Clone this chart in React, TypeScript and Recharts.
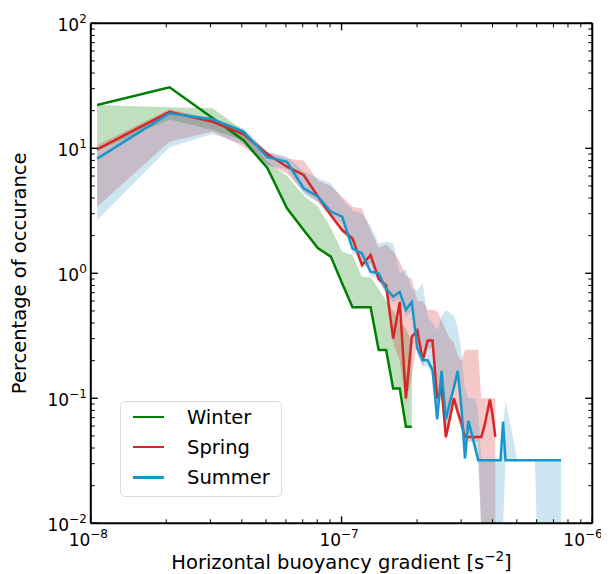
import React from 'react';
import { ComposedChart, Line, Area, XAxis, YAxis } from 'recharts';

// Bin centres of the gradient histogram, in units of 1e-8 s^-2
const binCentre = [
  1.06, 2.06, 3.06, 4.06, 5.06, 6.06, 7.06, 8.06, 9.06, 10.06,
  11.06, 12.06, 13.06, 14.06, 15.06, 16.06, 17.06, 18.06, 19.06, 20.06,
  21.06, 22.06, 23.06, 24.06, 25.06, 26.06, 27.06, 28.06, 29.06, 30.06,
  31.06, 32.06, 33.06, 34.06, 35.06, 36.06, 37.06, 38.06, 39.06, 40.06,
  41.06, 42.06, 43.06, 44.06, 45.06, 46.06, 47.06, 48.06, 49.06, 50.06,
  51.06, 52.06, 53.06, 54.06, 55.06, 56.06, 57.06, 58.06, 59.06, 60.06,
  61.06, 62.06, 63.06, 64.06, 65.06, 66.06, 67.06, 68.06, 69.06, 70.06,
  71.06, 72.06, 73.06, 74.06, 75.06,
].map((v) => v * 1e-8);

// Winter: percentage of occurrence and its spread
const winter = [22.2, 30.8, 17.5, 11.6, 6.95, 3.31, 2.22, 1.585, 1.36, 0.83, 0.535, 0.535, 0.535, 0.243, 0.243, 0.12, 0.12, 0.0593, 0.0593];
const winterLow = [9.5, 17, 14, 11.6, 6.95, 3.31, 2.22, 1.585, 1.36, 0.83, 0.535, 0.535, 0.535, 0.243, 0.243, 0.12, 0.12, 0.0593, 0.0593];
const winterHigh = [22.2, 21.3, 20.9, 13.9, 7.8, 6.0, 4.2, 3.4, 2.3, 1.49, 1.4, 0.94, 0.93, 0.75, 0.6, 0.5, 0.42, 0.36, 0.28];

// Spring
const spring = [
  9.82, 19.6, 16.3, 13.0, 9.0, 7.12, 6.12, 4.1, 2.93, 2.22,
  1.9, 1.165, 1.4, 0.9, 0.8, 0.3, 0.59, 0.1, 0.31, 0.35,
  0.2, 0.29, 0.29, 0.1, 0.12, 0.049, 0.07, 0.1, 0.078, 0.063,
  0.049, 0.049, 0.049, 0.049, 0.049, 0.049, 0.059, 0.076, 0.098, 0.072,
  0.049,
];
const springLow = [
  3.41, 11.3, 13.6, 10.3, 7.5, 6.3, 4.5, 3.7, 2.8, 2.1,
  1.8, 1.1, 1.2, 0.85, 0.7, 0.28, 0.2, 0.09, 0.15, 0.3,
  0.18, 0.25, 0.25, 0.09, 0.1, 0.045, 0.06, 0.09, 0.07, 0.055,
  0.045, 0.045, 0.045, 0.045, 0.045, 0.009, 0.009, 0.009, 0.009, 0.009,
  0.009,
];
const springHigh = [
  10.6, 20.5, 17, 14, 9.3, 8.3, 8.0, 5.5, 5.0, 4.1,
  3.4, 3.3, 2.2, 1.6, 1.7, 1.5, 1.25, 0.95, 0.9, 0.6,
  0.6, 0.51, 0.51, 0.5, 0.42, 0.35, 0.3, 0.28, 0.22, 0.2,
  0.245, 0.245, 0.245, 0.245, 0.245, 0.1, 0.1, 0.1, 0.1, 0.1,
  0.1,
];

// Summer
const summer = [
  8.26, 19.05, 17.06, 13.6, 8.5, 7.8, 4.79, 4.1, 3.12, 2.84,
  1.585, 1.445, 1.03, 1.0, 0.75, 0.65, 0.71, 0.51, 0.59, 0.25,
  0.202, 0.202, 0.168, 0.068, 0.166, 0.068, 0.093, 0.122, 0.166, 0.085,
  0.033, 0.066, 0.052, 0.041, 0.032, 0.032, 0.032, 0.032, 0.032, 0.032,
  0.032, 0.032, 0.032, 0.065, 0.032, 0.032, 0.032, 0.032, 0.032, 0.032,
  0.032, 0.032, 0.032, 0.032, 0.032, 0.032, 0.032, 0.032, 0.032, 0.032,
  0.032, 0.032, 0.032, 0.032, 0.032, 0.032, 0.032, 0.032, 0.032, 0.032,
  0.032, 0.032, 0.032, 0.032, 0.032,
];
const summerLow = [
  2.67, 10.2, 13.0, 10.8, 7.3, 6.8, 4.3, 3.7, 2.9, 2.5,
  1.45, 1.3, 0.95, 0.9, 0.68, 0.58, 0.62, 0.45, 0.5, 0.22,
  0.18, 0.18, 0.15, 0.06, 0.14, 0.06, 0.08, 0.11, 0.15, 0.075,
  0.03, 0.055, 0.045, 0.036, 0.03, 0.009, 0.009, 0.009, 0.009, 0.009,
  0.009, 0.009, 0.009, 0.009, 0.032, 0.032, 0.032, 0.032, 0.032, 0.032,
  0.032, 0.032, 0.032, 0.032, 0.032, 0.032, 0.032, 0.032, 0.032, 0.009,
  0.009, 0.009, 0.009, 0.009, 0.009, 0.009, 0.009, 0.009, 0.009, 0.009,
  0.009, 0.009, 0.009, 0.009, 0.009,
];
const summerHigh = [
  9.5, 19.5, 17.5, 14.5, 9.4, 8.6, 6.5, 5.75, 5.25, 3.9,
  3.2, 3.0, 2.4, 1.74, 1.79, 1.74, 1.0, 1.08, 0.75, 0.73,
  0.83, 0.45, 0.4, 0.35, 0.45, 0.51, 0.48, 0.46, 0.37, 0.23,
  0.12, 0.1, 0.1, 0.1, 0.08, 0.032, 0.032, 0.032, 0.032, 0.032,
  0.032, 0.032, 0.032, 0.06, 0.095, 0.077, 0.062, 0.051, 0.041, 0.032,
  0.032, 0.032, 0.032, 0.032, 0.032, 0.032, 0.032, 0.032, 0.032, 0.032,
  0.032, 0.032, 0.032, 0.032, 0.032, 0.032, 0.032, 0.032, 0.032, 0.032,
  0.032, 0.032, 0.032, 0.032, 0.032,
];

// Axis ticks (major decades carry labels, minor ones are short marks)
const xMajor = [1e-8, 1e-7, 1e-6];
const xMinor = [2e-8, 3e-8, 4e-8, 5e-8, 6e-8, 7e-8, 8e-8, 9e-8, 2e-7, 3e-7, 4e-7, 5e-7, 6e-7, 7e-7, 8e-7, 9e-7];
const yMajor = [0.01, 0.1, 1, 10, 100];
const yMinor = [
  0.02, 0.03, 0.04, 0.05, 0.06, 0.07, 0.08, 0.09,
  0.2, 0.3, 0.4, 0.5, 0.6, 0.7, 0.8, 0.9,
  2, 3, 4, 5, 6, 7, 8, 9,
  20, 30, 40, 50, 60, 70, 80, 90,
];
const xTicks = [...xMajor, ...xMinor].sort((a, b) => a - b);
const yTicks = [...yMajor, ...yMinor].sort((a, b) => a - b);

const seasons = [
  { name: 'Winter', color: '#008000' },
  { name: 'Spring', color: '#d62728' },
  { name: 'Summer', color: '#1796c9' },
];
const summerFill = '#1f8fc0';

const rows = binCentre.map((x, i) => ({
  x,
  winter: winter[i],
  winterBand: winterLow[i] != null ? [winterLow[i], winterHigh[i]] : undefined,
  spring: spring[i],
  springBand: springLow[i] != null ? [springLow[i], springHigh[i]] : undefined,
  summer: summer[i],
  summerBand: summerLow[i] != null ? [summerLow[i], summerHigh[i]] : undefined,
}));

const FONT = "'DejaVu Sans', 'Liberation Sans', sans-serif";
const W = 601;
const H = 566;
const AX = 1; // thickness reserved by each axis
const MARGIN = { top: 15.3 - AX, right: 16.7 - AX, bottom: 50.7 - AX, left: 82.8 - AX };
const MAJOR = 7;
const MINOR = 4;
const X_LABEL_HALF = 21; // half width of a "10^-n" label, with a little slack

const exponentOf = (v: number) => Math.round(Math.log10(v));
const expText = (e: number) => (e < 0 ? '\u2212' : '') + Math.abs(e);

const PowerLabel = ({ x, y, value, anchor }: { x: number; y: number; value: number; anchor: 'middle' | 'end' }) => (
  <text x={x} y={y} textAnchor={anchor} fontSize={17} fontFamily={FONT} fill="#000">
    10
    <tspan fontSize={12} dy={-8}>{expText(exponentOf(value))}</tspan>
  </text>
);

const isXMajor = (v: number) => xMajor.includes(v);
const isYMajor = (v: number) => yMajor.includes(v);

const BottomTick = (p: any) => {
  const major = isXMajor(p.payload.value);
  // keep the last decade label inside the drawing
  const lx = Math.min(p.x - 2.5, W - 5 - X_LABEL_HALF);
  return (
    <g>
      <line x1={p.x} y1={p.y} x2={p.x} y2={p.y - (major ? MAJOR : MINOR)} stroke="#000" strokeWidth={major ? 1.4 : 1} />
      {major && <PowerLabel x={lx} y={p.y + 23} value={p.payload.value} anchor="middle" />}
    </g>
  );
};
const TopTick = (p: any) => {
  const major = isXMajor(p.payload.value);
  return <line x1={p.x} y1={p.y} x2={p.x} y2={p.y + (major ? MAJOR : MINOR)} stroke="#000" strokeWidth={major ? 1.4 : 1} />;
};
const LeftTick = (p: any) => {
  const major = isYMajor(p.payload.value);
  return (
    <g>
      <line x1={p.x} y1={p.y} x2={p.x + (major ? MAJOR : MINOR)} y2={p.y} stroke="#000" strokeWidth={major ? 1.4 : 1} />
      {major && <PowerLabel x={p.x - 4} y={p.y + 8} value={p.payload.value} anchor="end" />}
    </g>
  );
};
const RightTick = (p: any) => {
  const major = isYMajor(p.payload.value);
  return <line x1={p.x} y1={p.y} x2={p.x - (major ? MAJOR : MINOR)} y2={p.y} stroke="#000" strokeWidth={major ? 1.4 : 1} />;
};

const XTitle = () => (
  <text x={333.5} y={561} textAnchor="middle" fontSize={19.5} fontFamily={FONT} fill="#000">
    Horizontal buoyancy gradient [s
    <tspan fontSize={13.5} dy={-8}>{'\u2212'}2</tspan>
    <tspan dy={8}>]</tspan>
  </text>
);
const YTitle = () => (
  <text transform="translate(18, 265.3) rotate(-90)" textAnchor="middle" fontSize={19.5} fontFamily={FONT} fill="#000">
    Percentage of occurance
  </text>
);

const frame = { stroke: '#000', strokeWidth: 2 };

export default function App() {
  return (
    <div style={{ position: 'relative', width: W, height: H }}>
      <ComposedChart width={W} height={H} data={rows} margin={MARGIN}>
        <XAxis
          xAxisId="main" dataKey="x" type="number" scale="log" domain={[1e-8, 1e-6]} allowDataOverflow
          ticks={xTicks} interval={0} tick={BottomTick} tickLine={false} tickSize={0} tickMargin={0}
          height={AX} axisLine={frame} label={<XTitle />}
        />
        <XAxis
          xAxisId="top" orientation="top" dataKey="x" type="number" scale="log" domain={[1e-8, 1e-6]} allowDataOverflow
          ticks={xTicks} interval={0} tick={TopTick} tickLine={false} tickSize={0} tickMargin={0}
          height={AX} axisLine={frame}
        />
        <YAxis
          yAxisId="main" type="number" scale="log" domain={[0.01, 100]} allowDataOverflow
          ticks={yTicks} interval={0} tick={LeftTick} tickLine={false} tickSize={0} tickMargin={0}
          width={AX} axisLine={frame} label={<YTitle />}
        />
        <YAxis
          yAxisId="right" orientation="right" type="number" scale="log" domain={[0.01, 100]} allowDataOverflow
          ticks={yTicks} interval={0} tick={RightTick} tickLine={false} tickSize={0} tickMargin={0}
          width={AX} axisLine={frame}
        />

        <Area xAxisId="main" yAxisId="main" dataKey="winterBand" stroke="none" fill={seasons[0].color} fillOpacity={0.25} isAnimationActive={false} />
        <Area xAxisId="main" yAxisId="main" dataKey="springBand" stroke="none" fill={seasons[1].color} fillOpacity={0.25} isAnimationActive={false} />
        <Area xAxisId="main" yAxisId="main" dataKey="summerBand" stroke="none" fill={summerFill} fillOpacity={0.22} isAnimationActive={false} />

        <Line xAxisId="main" yAxisId="main" dataKey="winter" stroke={seasons[0].color} strokeWidth={2.5} dot={false} isAnimationActive={false} />
        <Line xAxisId="main" yAxisId="main" dataKey="spring" stroke={seasons[1].color} strokeWidth={2.5} dot={false} isAnimationActive={false} />
        <Line xAxisId="main" yAxisId="main" dataKey="summer" stroke={seasons[2].color} strokeWidth={2.5} dot={false} isAnimationActive={false} />
      </ComposedChart>

      <div
        style={{
          position: 'absolute', left: 112, top: 393, width: 162, height: 96,
          border: '1px solid #dcdcdc', borderRadius: 5, background: 'rgba(255,255,255,0.85)',
          boxSizing: 'border-box', fontFamily: FONT, fontSize: 19.5, color: '#000',
        }}
      >
        {seasons.map((s, i) => {
          const cy = 15.7 + i * 30.3;
          return (
            <React.Fragment key={s.name}>
              <div style={{ position: 'absolute', left: 12, top: cy - 2.2, width: 31, height: 2.5, background: s.color }} />
              <div style={{ position: 'absolute', left: 66, top: cy - 12, height: 24, lineHeight: '24px', whiteSpace: 'nowrap' }}>
                {s.name}
              </div>
            </React.Fragment>
          );
        })}
      </div>
    </div>
  );
}
